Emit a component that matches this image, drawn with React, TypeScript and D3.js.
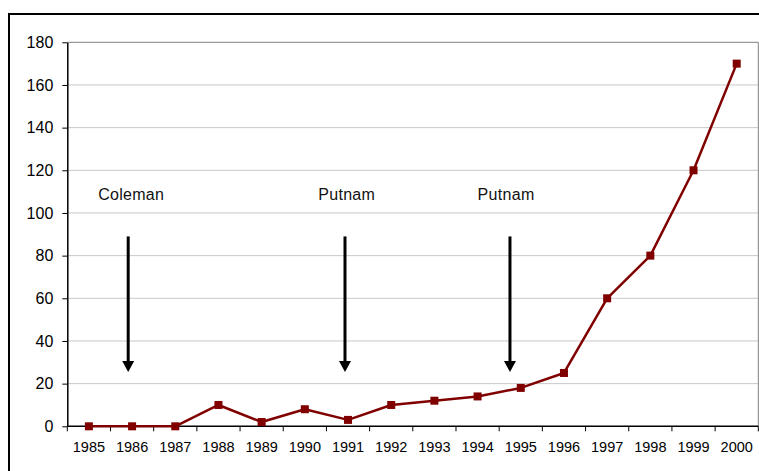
import React, { useEffect, useRef } from 'react';
import * as d3 from 'd3';

const years = ['1985', '1986', '1987', '1988', '1989', '1990', '1991', '1992', '1993', '1994', '1995', '1996', '1997', '1998', '1999', '2000'];
const counts = [0, 0, 0, 10, 2, 8, 3, 10, 12, 14, 18, 25, 60, 80, 120, 170];
const yTicks = [0, 20, 40, 60, 80, 100, 120, 140, 160, 180];

// annotation position is given in year units (band centres), arrow ends in value units
const notes = [
  { label: 'Coleman', textAt: 1985.98, arrowAt: 1985.91 },
  { label: 'Putnam', textAt: 1990.97, arrowAt: 1990.93 },
  { label: 'Putnam', textAt: 1994.66, arrowAt: 1994.75 },
];
const noteTextValue = 106;
const arrowFrom = 89;
const arrowTo = 25.5;

const FONT = '"Liberation Sans", Arial, sans-serif';

const App = () => {
  const ref = useRef<SVGSVGElement>(null);

  useEffect(() => {
    const svg = d3.select(ref.current);
    svg.selectAll('*').remove();

    const width = 759, height = 471;
    const margin = { top: 42.3, right: 0.7, bottom: 44.7, left: 67.3 };

    svg.attr('width', width).attr('height', height).style('font-family', FONT);

    svg.append('rect').attr('width', width).attr('height', height).attr('fill', '#fff');

    // outer chart border (runs past the right / bottom edges)
    svg.append('rect')
      .attr('x', 9).attr('y', 14)
      .attr('width', width + 10).attr('height', height + 10)
      .attr('fill', 'none').attr('stroke', '#000').attr('stroke-width', 2);

    const x = d3.scaleBand()
      .domain(years)
      .range([margin.left, width - margin.right]);

    const xPos = d3.scaleLinear()
      .domain([1985, 2000])
      .range([x('1985')! + x.bandwidth() / 2, x('2000')! + x.bandwidth() / 2]);

    const y = d3.scaleLinear()
      .domain([0, 180])
      .range([height - margin.bottom, margin.top]);

    // gridlines
    svg.append('g')
      .selectAll('line')
      .data(yTicks.filter(t => t > 0))
      .join('line')
      .attr('x1', margin.left).attr('x2', width - margin.right)
      .attr('y1', d => y(d)).attr('y2', d => y(d))
      .attr('stroke', d => (d === 180 ? '#808080' : '#c8c8c8'))
      .attr('stroke-width', 1);

    // right border of plot area
    svg.append('line')
      .attr('x1', width - margin.right).attr('x2', width - margin.right)
      .attr('y1', margin.top).attr('y2', height - margin.bottom)
      .attr('stroke', '#808080');

    // y axis
    const yAxis = svg.append('g')
      .attr('transform', `translate(${margin.left},0)`)
      .call(d3.axisLeft(y).tickValues(yTicks).tickSize(5).tickPadding(9).tickSizeOuter(0));
    yAxis.select('.domain').attr('stroke', '#000').attr('stroke-width', 1.5);
    yAxis.selectAll('line').attr('stroke', '#000');
    yAxis.selectAll('text')
      .style('font-size', '16px')
      .style('font-family', FONT)
      .attr('fill', '#000');

    // x axis with ticks at band boundaries
    const xAxis = svg.append('g').attr('transform', `translate(0,${height - margin.bottom})`);
    xAxis.append('line')
      .attr('x1', margin.left).attr('x2', width - margin.right)
      .attr('stroke', '#000').attr('stroke-width', 1.5);
    xAxis.selectAll('line.tick')
      .data(years)
      .join('line')
      .attr('class', 'tick')
      .attr('x1', d => x(d)! + x.bandwidth()).attr('x2', d => x(d)! + x.bandwidth())
      .attr('y1', 0).attr('y2', 5)
      .attr('stroke', '#000');
    xAxis.append('line')
      .attr('x1', margin.left).attr('x2', margin.left)
      .attr('y1', 0).attr('y2', 5)
      .attr('stroke', '#000');
    xAxis.selectAll('text')
      .data(years)
      .join('text')
      .attr('x', d => x(d)! + x.bandwidth() / 2)
      .attr('y', 26)
      .attr('text-anchor', 'middle')
      .style('font-size', '14.5px')
      .attr('fill', '#000')
      .text(d => d);

    // series
    const pts = years.map((yr, i) => ({ x: x(yr)! + x.bandwidth() / 2, v: counts[i] }));
    svg.append('path')
      .datum(pts)
      .attr('fill', 'none')
      .attr('stroke', '#800000')
      .attr('stroke-width', 2.5)
      .attr('stroke-linejoin', 'round')
      .attr('d', d3.line<{ x: number; v: number }>().x(d => d.x).y(d => y(d.v)));

    svg.append('g')
      .selectAll('rect')
      .data(pts)
      .join('rect')
      .attr('x', d => d.x - 4)
      .attr('y', d => y(d.v) - 4)
      .attr('width', 8).attr('height', 8)
      .attr('fill', '#800000');

    // annotations
    const g = svg.append('g');
    g.selectAll('text')
      .data(notes)
      .join('text')
      .attr('x', d => xPos(d.textAt))
      .attr('y', y(noteTextValue))
      .attr('text-anchor', 'middle')
      .style('font-size', '16px')
      .style('letter-spacing', '0.3px')
      .attr('fill', '#111')
      .text(d => d.label);

    g.selectAll('line')
      .data(notes)
      .join('line')
      .attr('x1', d => xPos(d.arrowAt)).attr('x2', d => xPos(d.arrowAt))
      .attr('y1', y(arrowFrom)).attr('y2', y(arrowTo) - 10)
      .attr('stroke', '#000').attr('stroke-width', 3);

    g.selectAll('path')
      .data(notes)
      .join('path')
      .attr('d', d => {
        const ax = xPos(d.arrowAt), ty = y(arrowTo);
        return `M${ax - 6},${ty - 11} L${ax + 6},${ty - 11} L${ax},${ty} Z`;
      })
      .attr('fill', '#000');
  }, []);

  return (
    <div style={{ position: 'fixed', left: 0, top: 0, width: 759, height: 471 }}>
      <svg ref={ref} style={{ display: 'block' }} />
    </div>
  );
};

export default App;
